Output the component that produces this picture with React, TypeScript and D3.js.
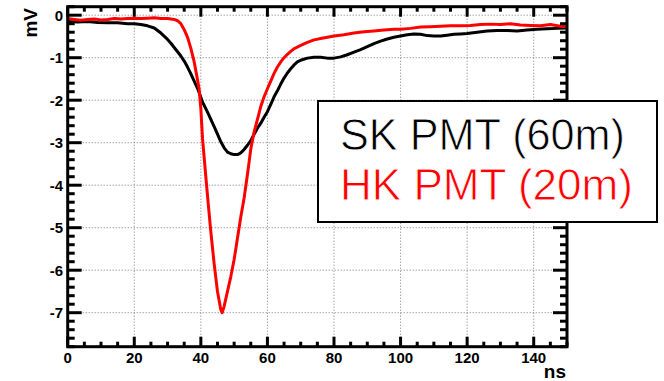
import { useEffect, useRef } from 'react';
import * as d3 from 'd3';

// SK PMT (60m) waveform
const skTime = [0, 3, 6, 9, 12, 15, 18, 20, 22, 24, 26, 28, 30, 31, 32, 33, 34, 35, 36, 37, 38, 39, 40, 40.5, 41, 42, 43, 44, 45, 46, 47, 48, 49, 50, 51, 52, 53, 54, 55, 56, 57, 58, 59, 60, 61, 62, 63, 64, 65, 66, 67, 68, 69, 70, 72, 74, 76, 78, 80, 82, 84, 86, 88, 90, 92, 94, 96, 98, 100, 102, 104, 106, 108, 110, 112, 114, 116, 118, 120, 123, 126, 129, 132, 135, 138, 141, 144, 147, 150];
const skVolt = [-0.15, -0.16, -0.15, -0.17, -0.18, -0.18, -0.2, -0.2, -0.22, -0.25, -0.3, -0.42, -0.57, -0.66, -0.76, -0.86, -0.96, -1.08, -1.22, -1.38, -1.55, -1.72, -1.93, -2.05, -2.12, -2.28, -2.45, -2.62, -2.8, -2.98, -3.12, -3.22, -3.26, -3.28, -3.28, -3.24, -3.16, -3.06, -2.95, -2.8, -2.66, -2.54, -2.4, -2.27, -2.1, -1.92, -1.78, -1.62, -1.48, -1.36, -1.26, -1.17, -1.1, -1.06, -1.01, -0.99, -0.99, -1.01, -1.01, -0.98, -0.93, -0.87, -0.81, -0.74, -0.67, -0.61, -0.56, -0.52, -0.49, -0.46, -0.44, -0.45, -0.48, -0.49, -0.49, -0.47, -0.45, -0.44, -0.43, -0.4, -0.37, -0.36, -0.36, -0.37, -0.35, -0.33, -0.32, -0.31, -0.3];

// HK PMT (20m) waveform
const hkTime = [0, 2, 4, 6, 8, 10, 12, 14, 16, 18, 20, 22, 24, 26, 28, 30, 31, 32, 33, 34, 35, 36, 37, 38, 39, 39.5, 40, 40.5, 41, 42, 43, 44, 45, 46, 46.4, 47, 48, 49, 50, 51, 52, 53, 54, 55, 56, 57, 58, 59, 60, 61, 62, 63, 64, 65, 66, 67, 68, 70, 72, 74, 76, 78, 80, 83, 86, 89, 92, 95, 98, 100, 103, 106, 109, 112, 115, 118, 121, 124, 127, 130, 133, 136, 139, 142, 145, 148, 150];
const hkVolt = [-0.08, -0.1, -0.12, -0.1, -0.09, -0.11, -0.1, -0.08, -0.09, -0.08, -0.07, -0.08, -0.07, -0.06, -0.08, -0.08, -0.09, -0.1, -0.13, -0.2, -0.34, -0.52, -0.78, -1.1, -1.52, -1.75, -2.2, -2.9, -3.35, -4.25, -5.1, -5.85, -6.5, -6.93, -7.0, -6.85, -6.5, -6.15, -5.75, -5.25, -4.75, -4.3, -3.75, -3.15, -2.75, -2.45, -2.15, -1.92, -1.73, -1.55, -1.37, -1.22, -1.1, -1.0, -0.92, -0.85, -0.79, -0.71, -0.64, -0.58, -0.55, -0.52, -0.49, -0.46, -0.42, -0.39, -0.37, -0.35, -0.33, -0.33, -0.31, -0.28, -0.27, -0.26, -0.25, -0.25, -0.24, -0.22, -0.21, -0.22, -0.2, -0.23, -0.24, -0.25, -0.22, -0.26, -0.27];

const xTicks = [0, 20, 40, 60, 80, 100, 120, 140];
const yTicks = [0, -1, -2, -3, -4, -5, -6, -7];
const legendLabels = ['SK PMT (60m)', 'HK PMT (20m)'];
const legendColors = ['#000000', '#ff0000'];

const W = 664;
const H = 381;

export default function App() {
  const svgRef = useRef<SVGSVGElement>(null);

  useEffect(() => {
    if (!svgRef.current) return;
    document.body.style.margin = '0';
    const svg = d3.select(svgRef.current);
    svg.selectAll('*').remove();

    const left = 67.7, right = 567, top = 6.7, bottom = 346.7;
    const x = d3.scaleLinear().domain([0, 150]).range([left, right]);
    const y = d3.scaleLinear().domain([0.2, -7.8]).range([top, bottom]);

    svg.append('rect').attr('width', W).attr('height', H).attr('fill', 'white');

    // Dotted grid
    const grid = svg.append('g').attr('stroke', '#777').attr('stroke-width', 1).attr('stroke-dasharray', '1 2');
    grid.selectAll('.gx').data(xTicks.filter(d => d > 0)).enter().append('line')
      .attr('x1', d => x(d)).attr('x2', d => x(d)).attr('y1', top).attr('y2', bottom);
    grid.selectAll('.gy').data(yTicks).enter().append('line')
      .attr('y1', d => y(d)).attr('y2', d => y(d)).attr('x1', left).attr('x2', right);

    // Waveforms
    const line = d3.line<[number, number]>().x(d => x(d[0])).y(d => y(d[1]));
    const series = [
      { t: skTime, v: skVolt, color: legendColors[0] },
      { t: hkTime, v: hkVolt, color: legendColors[1] },
    ];
    series.forEach(s => {
      svg.append('path')
        .datum(s.t.map((t, i) => [t, s.v[i]] as [number, number]))
        .attr('d', line)
        .attr('fill', 'none')
        .attr('stroke', s.color)
        .attr('stroke-width', 3)
        .attr('stroke-linejoin', 'round');
    });

    // Ticks (inside, on all four sides)
    const ticks = svg.append('g').attr('stroke', 'black').attr('stroke-width', 3);
    const xMinor = d3.range(0, 151, 5);
    xMinor.forEach(v => {
      const len = v % 20 === 0 ? 10 : 5;
      ticks.append('line').attr('x1', x(v)).attr('x2', x(v)).attr('y1', bottom).attr('y2', bottom - len);
      ticks.append('line').attr('x1', x(v)).attr('x2', x(v)).attr('y1', top).attr('y2', top + len);
    });
    const yMinor = d3.range(0, 41).map(i => 0.2 - i * 0.2);
    yMinor.forEach(v => {
      const major = Math.abs(v - Math.round(v)) < 1e-6;
      const len = major ? 14 : 7;
      ticks.append('line').attr('y1', y(v)).attr('y2', y(v)).attr('x1', left).attr('x2', left + len);
      ticks.append('line').attr('y1', y(v)).attr('y2', y(v)).attr('x1', right).attr('x2', right - len);
    });

    // Frame
    svg.append('rect')
      .attr('x', left).attr('y', top)
      .attr('width', right - left).attr('height', bottom - top)
      .attr('fill', 'none').attr('stroke', 'black').attr('stroke-width', 3);

    // Tick labels
    const font = 'Liberation Sans, Arial, Helvetica, sans-serif';
    svg.selectAll('.xl').data(xTicks).enter().append('text')
      .attr('x', d => x(d)).attr('y', 362.5)
      .attr('text-anchor', 'middle')
      .style('font-family', font).style('font-weight', 'bold').style('font-size', '15px')
      .text(d => d);
    svg.selectAll('.yl').data(yTicks).enter().append('text')
      .attr('x', 63).attr('y', d => y(d)).attr('dy', '0.36em')
      .attr('text-anchor', 'end')
      .style('font-family', font).style('font-weight', 'bold').style('font-size', '15px')
      .text(d => d);

    // Axis titles
    svg.append('text')
      .attr('transform', 'translate(37,8) rotate(-90)')
      .attr('text-anchor', 'end')
      .style('font-family', font).style('font-weight', 'bold').style('font-size', '19px')
      .text('mV');
    svg.append('text')
      .attr('x', 566).attr('y', 378)
      .attr('text-anchor', 'end')
      .style('font-family', font).style('font-weight', 'bold').style('font-size', '19px')
      .text('ns');

    // Legend
    const lg = svg.append('g');
    lg.append('rect')
      .attr('x', 318).attr('y', 101).attr('width', 339).attr('height', 121)
      .attr('fill', 'white').attr('stroke', 'black').attr('stroke-width', 2);
    legendLabels.forEach((label, i) => {
      lg.append('text')
        .attr('x', 340).attr('y', 150 + i * 50)
        .attr('fill', legendColors[i])
        .attr('stroke', 'white')
        .attr('stroke-width', 0.8)
        .attr('textLength', i === 0 ? 285 : 293)
        .attr('lengthAdjust', 'spacingAndGlyphs')
        .style('font-family', 'Liberation Sans, Arial, sans-serif')
        .style('font-size', '44px')
        .text(label);
    });
  }, []);

  return <svg ref={svgRef} width={W} height={H} style={{ display: 'block', position: 'absolute', left: 0, top: 0 }} />;
}
